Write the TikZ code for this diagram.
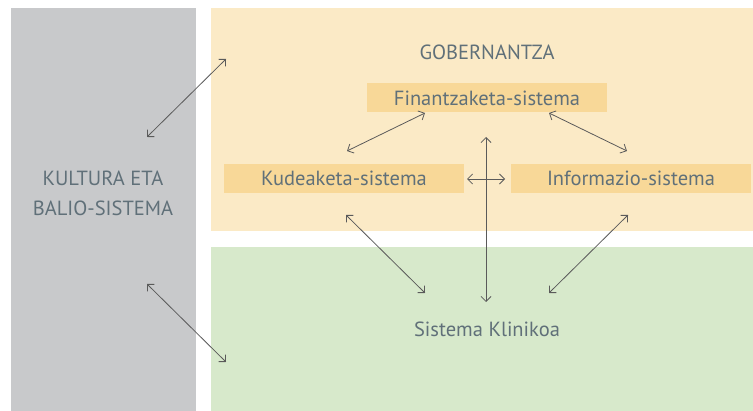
\documentclass[tikz,border=0pt]{standalone}
\usepackage{fontspec}
\setmainfont{PT Sans}
\usepackage{xcolor}
\usepackage{tikz}
\usetikzlibrary{arrows.meta, positioning}

\definecolor{culturegray}{HTML}{C8C9CB}
\definecolor{govyellow}{HTML}{FBEAC6}
\definecolor{sysyellow}{HTML}{F8D898}
\definecolor{clingreen}{HTML}{D7E9CB}
\definecolor{labelgray}{HTML}{607079}
\definecolor{arrowgray}{HTML}{5A5A5A}

\begin{document}
\begin{tikzpicture}[
    x=1pt, y=-1pt,
    panel/.style={rectangle, anchor=north west, inner sep=0pt, outer sep=0pt},
    sysbox/.style={rectangle, fill=sysyellow, minimum width=240pt,
      minimum height=29pt, inner sep=0pt, text=labelgray,
      font=\fontsize{20.5}{24}\selectfont},
    lbl/.style={align=center, text=labelgray, font=\fontsize{20.5}{30}\selectfont},
    arrow/.style={draw=arrowgray, line width=0.8pt,
      {Straight Barb[length=5pt,width=10pt]}-{Straight Barb[length=5pt,width=10pt]}}
]
\useasboundingbox (0,0) rectangle (753,411);

% background panels
\node[panel, fill=culturegray, minimum width=185pt, minimum height=403pt] (culture) at (11,8) {};
\node[panel, fill=govyellow, minimum width=542pt, minimum height=223pt] (gov) at (211,8) {};
\node[panel, fill=clingreen, minimum width=542pt, minimum height=164pt] (clin) at (211,247) {};

% labels and subsystems
\node[lbl] (cultlbl) at (103,193) {KULTURA ETA\\BALIO-SISTEMA};
\node[lbl] (govlbl) at (487,52) {GOBERNANTZA};
\node[sysbox] (fin) at (487,98) {Finantzaketa-sistema};
\node[sysbox] (kud) at (344,178.5) {Kudeaketa-sistema};
\node[sysbox] (inf) at (631,178.5) {Informazio-sistema};
\node[lbl] (klin) at (487,329) {Sistema Klinikoa};

% arrow ends
\coordinate (cg1) at (147,137);  \coordinate (cg2) at (226,59);
\coordinate (cc1) at (147,284);  \coordinate (cc2) at (226,362);
\coordinate (kf1) at (347,151);  \coordinate (kf2) at (425,113);
\coordinate (fi1) at (549,113);  \coordinate (fi2) at (627,151);
\coordinate (ki1) at (467,179);  \coordinate (ki2) at (505,179);
\coordinate (fc1) at (486,137);  \coordinate (fc2) at (486,302);
\coordinate (kc1) at (346,215);  \coordinate (kc2) at (425,293);
\coordinate (ic1) at (628,215);  \coordinate (ic2) at (549,293);

\foreach \a/\b in {cg1/cg2, cc1/cc2, kf1/kf2, fi1/fi2, ki1/ki2, fc1/fc2, kc1/kc2, ic1/ic2}
  \draw[arrow] (\a) -- (\b);
\end{tikzpicture}
\end{document}
